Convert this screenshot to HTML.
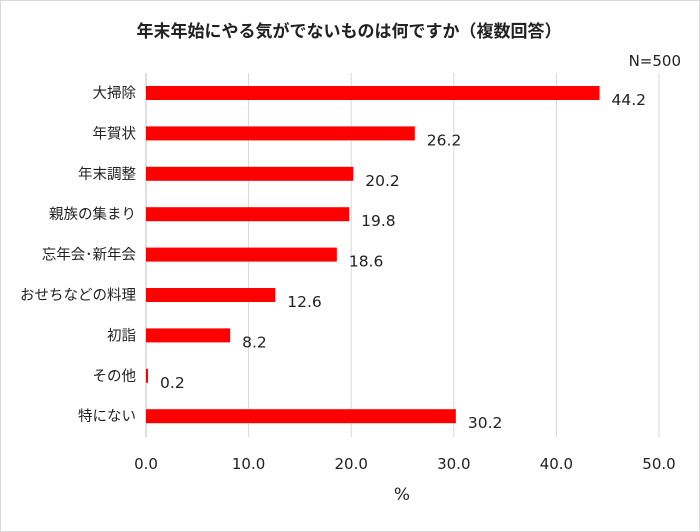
<!DOCTYPE html>
<html><head><meta charset="utf-8"><style>
body{margin:0;background:#fff}
svg{display:block;font-family:"DejaVu Sans","Noto Sans CJK JP",sans-serif}
</style></head><body>
<svg id="c" width="700" height="532" viewBox="0 0 700 532">
<rect x="0.5" y="0.5" width="699" height="531" fill="#fff" stroke="#d9d9d9"/>
<text x="349" y="37" text-anchor="middle" font-size="17" font-weight="bold" fill="#222">年末年始にやる気がでないものは何ですか（複数回答）</text>
<text x="681" y="66" text-anchor="end" font-size="15" fill="#222">N=500</text>
<text x="402" y="500" text-anchor="middle" font-size="17" fill="#222">%</text>
<g id="grid"></g><g id="bars"></g><g id="labels"></g>
</svg>
<script>
const categories=["大掃除","年賀状","年末調整","親族の集まり","忘年会･新年会","おせちなどの料理","初詣","その他","特にない"];
const values=[44.2,26.2,20.2,19.8,18.6,12.6,8.2,0.2,30.2];
const ticks=[0,10,20,30,40,50];
const ns="http://www.w3.org/2000/svg";
const x=v=>146+v*10.26;
const y=i=>93+i*40.4;
function mk(t,a,p,txt){const e=document.createElementNS(ns,t);for(const k in a)e.setAttribute(k,a[k]);if(txt!==undefined)e.textContent=txt;document.getElementById(p).appendChild(e);return e;}
ticks.forEach(t=>{
const g=mk("line",{x1:x(t),x2:x(t),y1:73,y2:437,stroke:t===0?"#bfbfbf":"#d9d9d9","stroke-width":1},"grid");


const l=mk("text",{x:x(t),y:469,"text-anchor":"middle","font-size":15,fill:"#222"},"labels",t.toFixed(1));


});
categories.forEach((c,i)=>{
const b=mk("rect",{x:x(0),y:y(i)-7,width:Math.max(x(values[i])-x(0),1),height:14,fill:"#ff0000"},"bars");


const l=mk("text",{x:136,y:y(i)+5,"text-anchor":"end","font-size":14.5,fill:"#222"},"labels",c);


const v=mk("text",{x:x(values[i])+12,y:y(i)+12,"font-size":15.5,fill:"#222"},"labels",values[i].toFixed(1));


});
</script>
</body></html>
